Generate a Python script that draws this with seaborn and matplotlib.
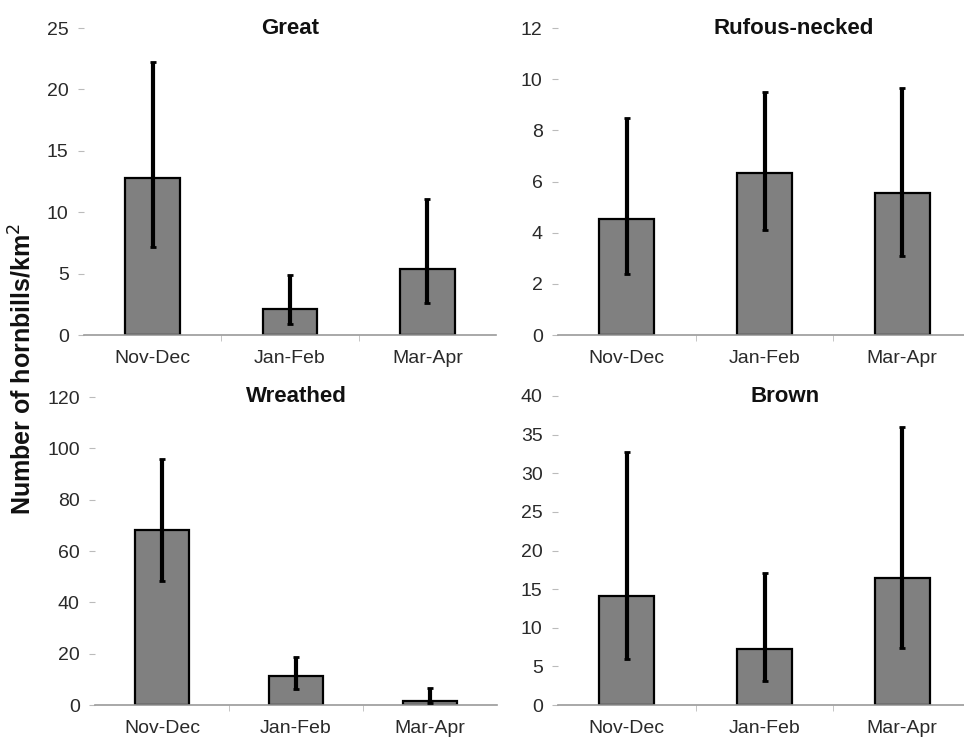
import numpy as np
import pandas as pd
import matplotlib.pyplot as plt
import seaborn as sns

# Two-month periods and hornbill species
periods = ['Nov-Dec', 'Jan-Feb', 'Mar-Apr']
species = ['Great', 'Rufous-necked', 'Wreathed', 'Brown']

# Mean density (hornbills/km2) with lower / upper confidence limits
great_mean = [12.8, 2.1, 5.35]
great_low = [7.2, 0.9, 2.6]
great_high = [22.2, 4.9, 11.1]

rufous_mean = [4.55, 6.33, 5.54]
rufous_low = [2.4, 4.1, 3.1]
rufous_high = [8.5, 9.5, 9.65]

wreathed_mean = [68.2, 11.2, 1.6]
wreathed_low = [48.3, 6.1, 0.6]
wreathed_high = [95.8, 18.7, 6.8]

brown_mean = [14.1, 7.3, 16.4]
brown_low = [5.9, 3.1, 7.4]
brown_high = [32.8, 17.1, 36.0]

y_max = [25, 12, 120, 40]
y_step = [5, 2, 20, 5]

sns.set_style('white')
plt.rcParams['font.family'] = ['Liberation Sans', 'DejaVu Sans']

fig = plt.figure(figsize=(9.64, 7.38), dpi=100)
W, H = 964, 738
# axes boxes in pixels: left, right, top, bottom
boxes = [(84, 496, 28, 335), (558, 971, 28, 335),
         (95, 497, 397, 705), (558, 971, 396, 705)]
title_x = [0.5, 0.57, 0.5, 0.55]

means = [great_mean, rufous_mean, wreathed_mean, brown_mean]
lows = [great_low, rufous_low, wreathed_low, brown_low]
highs = [great_high, rufous_high, wreathed_high, brown_high]

for i, name in enumerate(species):
    l, r, t, b = boxes[i]
    ax = fig.add_axes([l / W, 1 - b / H, (r - l) / W, (b - t) / H])
    df = pd.DataFrame({'period': periods, 'density': means[i]})
    sns.barplot(data=df, x='period', y='density', color='#808080',
                saturation=1, width=0.4, edgecolor='black', linewidth=1.6, ax=ax)
    m = np.array(means[i])
    err = [m - np.array(lows[i]), np.array(highs[i]) - m]
    ax.errorbar(range(len(periods)), m, yerr=err, fmt='none', ecolor='black',
                elinewidth=3, capsize=2.5, capthick=2, zorder=5)
    ax.set_xlim(-0.5, 2.5)
    ax.set_ylim(0, y_max[i])
    ax.set_yticks(np.arange(0, y_max[i] + 0.1, y_step[i]))
    ax.set_xlabel('')
    ax.set_ylabel('')
    for s in ['top', 'right', 'left']:
        ax.spines[s].set_visible(False)
    ax.spines['bottom'].set_color('#9a9a9a')
    ax.spines['bottom'].set_linewidth(1.2)
    ax.tick_params(axis='y', left=True, length=4, width=0.8, color='#bbbbbb',
                   labelsize=14, labelcolor='#2a2a2a', pad=7)
    ax.tick_params(axis='x', bottom=False, labelsize=14, labelcolor='#2a2a2a', pad=7)
    ax.set_xticks([0.5, 1.5], minor=True)
    ax.tick_params(axis='x', which='minor', bottom=True, length=4, color='#bbbbbb')
    ax.text(title_x[i], 1.0, name, transform=ax.transAxes, ha='center', va='center',
            fontsize=16, fontweight='bold', color='#111111')

fig.text(0.023, 0.5, 'Number of hornbills/km$^2$', rotation=90, ha='center',
         va='center', fontsize=18, fontweight='bold', color='#111111')

plt.savefig('out.png', dpi=100)
plt.close()
